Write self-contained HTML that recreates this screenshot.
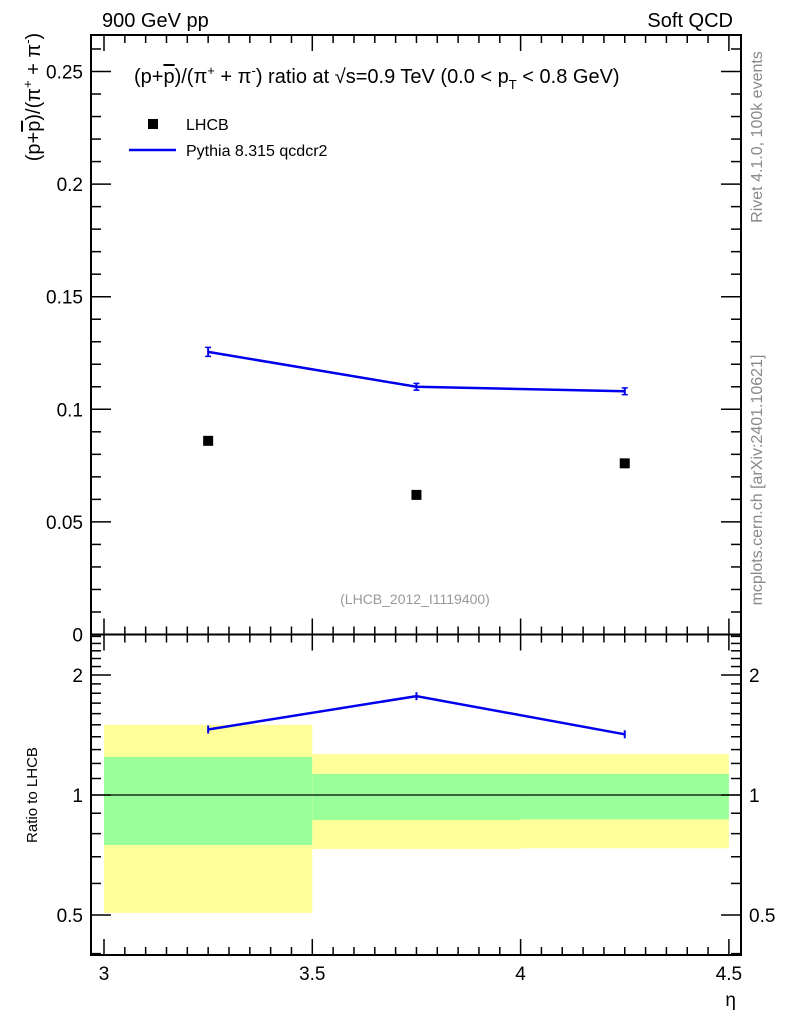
<!DOCTYPE html>
<html><head><meta charset="utf-8"><style>
body{margin:0;background:#fff}
svg text{font-family:"Liberation Sans",sans-serif}
</style></head><body>
<svg id="c" width="786" height="1024" xmlns="http://www.w3.org/2000/svg"></svg>
<script>
const categories=[3.25,3.75,4.25];
const binEdges=[3,3.5,4,4.5];
const lhcbValues=[0.086,0.062,0.076];
const pythiaValues=[0.1255,0.110,0.108];
const pythiaErr=[0.002,0.0015,0.0015];
const ratioValues=[1.46,1.77,1.42];
const yellowHi=[1.50,1.267,1.267];
const yellowLo=[0.506,0.732,0.735];
const greenHi=[1.246,1.129,1.129];
const greenLo=[0.749,0.866,0.869];
const mainTicks=[0,0.05,0.1,0.15,0.2,0.25];
const mainTickLabels=["0","0.05","0.1","0.15","0.2","0.25"];
const xTicks=[3,3.5,4,4.5];
const xTickLabels=["3","3.5","4","4.5"];
const ratioTicks=[0.5,1,2];
const ratioTickLabels=["0.5","1","2"];

const L=91,R=741,T=35,MB=634.5,RB=955;
const X=v=>104+(v-3)*416.6;
const Y=v=>634.5-v*2252;
const YR=v=>795-120*Math.log2(v);
const svg=document.getElementById('c');
const NS='http://www.w3.org/2000/svg';
function el(tag,attrs,parent){const e=document.createElementNS(NS,tag);for(const k in attrs)e.setAttribute(k,attrs[k]);(parent||svg).appendChild(e);return e;}
function txt(s,x,y,size,anchor,fill,parent){const t=el('text',{x:x,y:y,'font-size':size,'text-anchor':anchor||'start',fill:fill||'#000'},parent);t.textContent=s;return t;}

// bands
for(let i=0;i<3;i++){
 let r=el('rect',{x:X(binEdges[i]),y:YR(yellowHi[i]),width:X(binEdges[i+1])-X(binEdges[i]),height:YR(yellowLo[i])-YR(yellowHi[i]),fill:'#ffff99'});
 
 let g=el('rect',{x:X(binEdges[i]),y:YR(greenHi[i]),width:X(binEdges[i+1])-X(binEdges[i]),height:YR(greenLo[i])-YR(greenHi[i]),fill:'#99ff99'});
 
}
el('line',{x1:L,x2:R,y1:YR(1),y2:YR(1),stroke:'#000','stroke-width':1.2});

// frames
const f1=el('rect',{x:L,y:T,width:R-L,height:MB-T,fill:'none',stroke:'#000','stroke-width':2});

const f2=el('rect',{x:L,y:MB,width:R-L,height:RB-MB,fill:'none',stroke:'#000','stroke-width':2});


// x ticks
for(let v=3;v<=4.5001;v+=0.05){
 const maj=Math.abs(v*2-Math.round(v*2))<1e-6;const len=maj?16:8;const x=X(v);
 [[MB,-1],[MB,1],[RB,-1],[T,1]].forEach(([y,d])=>el('line',{x1:x,x2:x,y1:y,y2:y+d*len,stroke:'#000','stroke-width':1.5}));
}
xTicks.forEach((v,i)=>{const t=txt(xTickLabels[i],X(v),980,19,'middle');});
txt('η',736,1006,19,'end');

// main y ticks
for(let k=0;k<=26;k++){const v=k*0.01;const y=Y(v);if(y<T)continue;const maj=k%5==0;const len=maj?20:10;
 el('line',{x1:L,x2:L+len,y1:y,y2:y,stroke:'#000','stroke-width':1.5});el('line',{x1:R,x2:R-len,y1:y,y2:y,stroke:'#000','stroke-width':1.5});}
mainTicks.forEach((v,i)=>{const t=txt(mainTickLabels[i],83,Y(v)+7,19,'end');});

// ratio ticks
const minor=[0.4,0.5,0.6,0.7,0.8,0.9,1,1.1,1.2,1.3,1.4,1.5,1.6,1.7,1.8,1.9,2,2.1,2.2,2.3,2.4,2.5];
minor.forEach(v=>{const y=YR(v);if(y<MB||y>RB)return;const maj=(v==0.5||v==1||v==2);const len=maj?20:10;
 el('line',{x1:L,x2:L+len,y1:y,y2:y,stroke:'#000','stroke-width':1.5});el('line',{x1:R,x2:R-len,y1:y,y2:y,stroke:'#000','stroke-width':1.5});});
ratioTicks.forEach((v,i)=>{txt(ratioTickLabels[i],83,YR(v)+7,19,'end');txt(ratioTickLabels[i],749,YR(v)+7,19,'start');});

// pythia main
el('polyline',{points:categories.map((c,i)=>X(c)+','+Y(pythiaValues[i])).join(' '),fill:'none',stroke:'#0000ee','stroke-width':2.5});
categories.forEach((c,i)=>{const x=X(c);el('line',{x1:x,x2:x,y1:Y(pythiaValues[i]+pythiaErr[i]),y2:Y(pythiaValues[i]-pythiaErr[i]),stroke:'#0000ee','stroke-width':2});
 el('line',{x1:x-3,x2:x+3,y1:Y(pythiaValues[i]+pythiaErr[i]),y2:Y(pythiaValues[i]+pythiaErr[i]),stroke:'#0000ee','stroke-width':1.5});
 el('line',{x1:x-3,x2:x+3,y1:Y(pythiaValues[i]-pythiaErr[i]),y2:Y(pythiaValues[i]-pythiaErr[i]),stroke:'#0000ee','stroke-width':1.5});});
// lhcb
categories.forEach((c,i)=>{const r=el('rect',{x:X(c)-5,y:Y(lhcbValues[i])-5,width:10,height:10,fill:'#000'});});
// ratio line
el('polyline',{points:categories.map((c,i)=>X(c)+','+YR(ratioValues[i])).join(' '),fill:'none',stroke:'#0000ee','stroke-width':2.5});
categories.forEach((c,i)=>{const x=X(c),y=YR(ratioValues[i]);el('line',{x1:x,x2:x,y1:y-4,y2:y+4,stroke:'#0000ee','stroke-width':2});});

// texts
txt('900 GeV pp',102,27,20,'start');
txt('Soft QCD',733,27,20,'end');
const title=el('text',{x:134,y:83,'font-size':20});
title.innerHTML='(p+<tspan text-decoration="overline">p</tspan>)/(π<tspan font-size="13" dy="-8">+</tspan><tspan dy="8"> + π</tspan><tspan font-size="13" dy="-8">-</tspan><tspan dy="8">) ratio at √s=0.9 TeV (0.0 &lt; p</tspan><tspan font-size="13" dy="6">T</tspan><tspan dy="-6"> &lt; 0.8 GeV)</tspan>';
el('rect',{x:148,y:119,width:10,height:10,fill:'#000'});
txt('LHCB',186,130,16,'start');
el('line',{x1:129,x2:176,y1:150,y2:150,stroke:'#0000ee','stroke-width':2.5});
txt('Pythia 8.315 qcdcr2',186,156,16,'start');
txt('(LHCB_2012_I1119400)',415,604,14,'middle','#999');
const yt=el('text',{x:0,y:0,'font-size':20,transform:'translate(40,97) rotate(-90)','text-anchor':'middle'});
yt.innerHTML='(p+<tspan text-decoration="overline">p</tspan>)/(π<tspan font-size="13" dy="-8">+</tspan><tspan dy="8"> + π</tspan><tspan font-size="13" dy="-8">-</tspan><tspan dy="8">)</tspan>';
const rt=txt('Ratio to LHCB',0,0,15,'middle');rt.setAttribute('transform','translate(37,795) rotate(-90)');
const s1=txt('Rivet 4.1.0,  100k events',0,0,16,'middle','#888');s1.setAttribute('transform','translate(762,137) rotate(-90)');
const s2=txt('mcplots.cern.ch [arXiv:2401.10621]',0,0,16,'middle','#888');s2.setAttribute('transform','translate(762,480) rotate(-90)');
</script>
</body></html>
